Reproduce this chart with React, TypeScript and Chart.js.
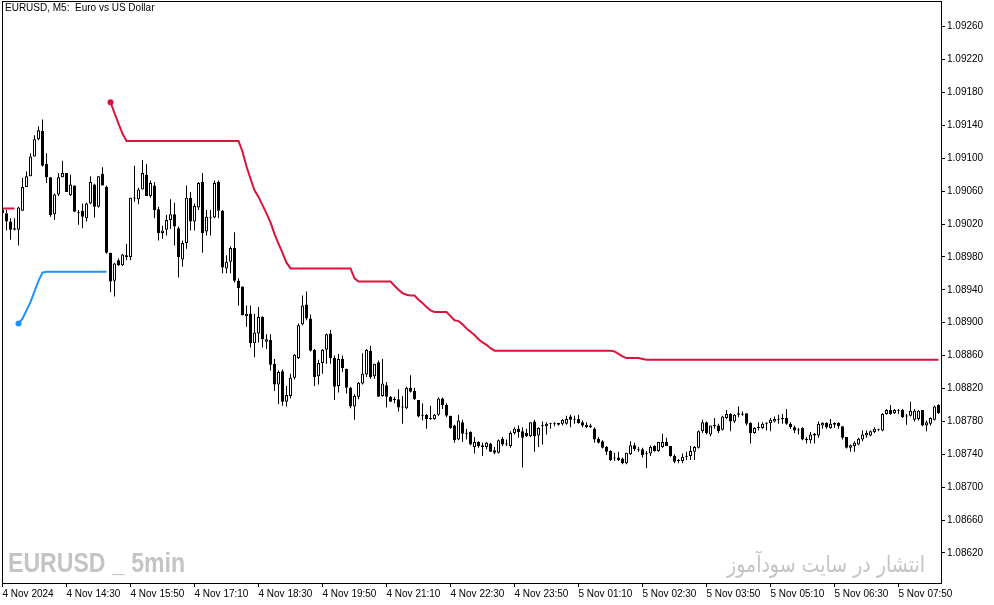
import { useEffect, useRef } from "react";
import { Chart, registerables } from "chart.js";

Chart.register(...registerables);

// Prices are stored in points (0.00001) above 1.08000
const PRICE_BASE = 1.08;
const POINT = 0.00001;

const TITLE = "EURUSD, M5:  Euro vs US Dollar";
const WATERMARK_LEFT = "EURUSD _ 5min";
const WATERMARK_RIGHT = "انتشار در سایت سودآموز";

// 5-minute bars, bar 0 = 4 Nov 2024 13:10
const openPts = [
  1037, 1033, 1023, 1015, 1013, 1036, 1065, 1078, 1102, 1123,
  1133, 1093, 1077, 1032, 1056, 1077, 1082, 1055, 1067, 1033,
  1036, 1027, 1045, 1068, 1041, 1081, 1065, 985, 951, 976,
  970, 980, 980, 1051, 1050, 1062, 1080, 1054, 1067, 1038,
  1009, 1013, 1025, 1032, 1015, 977, 997, 1052, 1023, 1040,
  1071, 1011, 1027, 1028, 1071, 1036, 966, 974, 991, 951,
  944, 908, 911, 875, 887, 907, 877, 879, 850, 825,
  841, 804, 811, 833, 857, 898, 922, 905, 867, 835,
  851, 867, 887, 857, 823, 856, 844, 821, 798, 810,
  826, 837, 866, 835, 852, 811, 824, 810, 806, 807,
  797, 796, 821, 817, 806, 787, 788, 783, 783, 788,
  808, 800, 787, 775, 758, 779, 765, 767, 749, 755,
  751, 749, 753, 745, 742, 759, 752, 750, 766, 771,
  768, 766, 762, 780, 763, 774, 774, 777, 778, 778,
  777, 777, 786, 782, 783, 779, 776, 775, 771, 759,
  756, 749, 744, 735, 736, 735, 729, 740, 751, 746,
  746, 740, 741, 750, 744, 749, 755, 750, 738, 732,
  732, 737, 738, 743, 748, 768, 779, 764, 776, 775,
  770, 784, 789, 780, 790, 788, 790, 778, 766, 772,
  772, 777, 778, 780, 782, 783, 784, 777, 773, 770,
  772, 759, 757, 763, 763, 775, 778, 772, 776, 778,
  774, 761, 748, 750, 752, 758, 763, 763, 767, 771,
  769, 789, 794, 790, 794, 794, 786, 787, 782, 783,
  794, 775, 777, 782, 800,
];
const highPts = [
  1038, 1037, 1027, 1027, 1041, 1076, 1084, 1106, 1128, 1139,
  1147, 1106, 1077, 1057, 1082, 1097, 1082, 1080, 1067, 1037,
  1045, 1046, 1078, 1069, 1078, 1089, 1067, 985, 973, 978,
  984, 996, 1052, 1091, 1064, 1098, 1093, 1073, 1071, 1041,
  1018, 1031, 1050, 1046, 1017, 1000, 1067, 1059, 1045, 1071,
  1082, 1037, 1037, 1073, 1073, 1037, 982, 993, 1010, 954,
  944, 921, 921, 911, 919, 908, 886, 886, 856, 842,
  843, 823, 838, 862, 899, 933, 938, 910, 868, 855,
  868, 887, 891, 860, 862, 860, 844, 822, 813, 828,
  863, 868, 872, 850, 854, 856, 828, 811, 810, 819,
  811, 822, 836, 821, 806, 802, 789, 799, 789, 809,
  809, 802, 787, 776, 788, 782, 771, 768, 761, 756,
  754, 755, 754, 749, 758, 761, 758, 768, 773, 775,
  773, 771, 779, 782, 773, 780, 779, 778, 779, 778,
  783, 787, 788, 787, 788, 781, 779, 777, 773, 761,
  757, 750, 745, 742, 743, 736, 742, 756, 754, 749,
  748, 744, 751, 751, 755, 765, 760, 750, 740, 734,
  741, 743, 750, 750, 769, 782, 780, 775, 784, 777,
  787, 794, 790, 789, 798, 792, 790, 779, 773, 779,
  779, 779, 784, 786, 788, 789, 795, 779, 775, 772,
  773, 761, 767, 766, 780, 779, 779, 783, 779, 779,
  774, 761, 752, 756, 760, 769, 769, 769, 773, 771,
  790, 795, 800, 795, 795, 795, 789, 804, 795, 794,
  794, 781, 785, 799, 801,
];
const lowPts = [
  1031, 1012, 1001, 1012, 994, 1036, 1065, 1078, 1102, 1122,
  1090, 1070, 1029, 1025, 1054, 1077, 1059, 1054, 1035, 1019,
  1015, 1023, 1044, 1028, 1040, 1067, 984, 937, 932, 969,
  969, 976, 976, 1047, 1044, 1062, 1054, 1052, 1027, 1000,
  1002, 1006, 1014, 994, 955, 968, 990, 1012, 1012, 1037,
  985, 1006, 1006, 1027, 1027, 960, 960, 960, 949, 921,
  909, 895, 870, 858, 876, 870, 868, 842, 817, 801,
  799, 798, 808, 831, 856, 897, 903, 865, 823, 825,
  838, 850, 850, 806, 815, 840, 814, 796, 782, 807,
  825, 834, 832, 832, 810, 810, 797, 804, 802, 792,
  777, 795, 815, 806, 785, 781, 771, 782, 782, 787,
  795, 785, 771, 754, 757, 755, 758, 751, 741, 748,
  738, 746, 743, 740, 741, 750, 750, 748, 764, 760,
  724, 761, 761, 743, 749, 752, 764, 771, 774, 775,
  775, 776, 773, 777, 777, 773, 772, 772, 754, 753,
  747, 739, 732, 732, 732, 728, 728, 739, 744, 743,
  736, 723, 738, 743, 743, 748, 750, 737, 729, 729,
  729, 733, 733, 733, 747, 766, 764, 762, 771, 766,
  769, 783, 768, 778, 785, 787, 775, 753, 765, 769,
  771, 769, 768, 779, 777, 777, 776, 771, 766, 764,
  757, 753, 753, 753, 760, 771, 771, 771, 772, 771,
  758, 747, 743, 743, 751, 756, 760, 762, 766, 768,
  768, 788, 788, 789, 789, 784, 776, 786, 780, 781,
  774, 768, 775, 781, 789,
];
const closePts = [
  1033, 1023, 1013, 1013, 1040, 1065, 1078, 1102, 1123, 1134,
  1091, 1077, 1031, 1056, 1077, 1082, 1059, 1068, 1035, 1033,
  1029, 1045, 1071, 1041, 1078, 1067, 985, 950, 972, 970,
  983, 982, 1052, 1051, 1062, 1082, 1054, 1070, 1037, 1009,
  1012, 1025, 1032, 1017, 980, 997, 1052, 1023, 1042, 1070,
  1009, 1029, 1027, 1070, 1036, 967, 974, 991, 951, 942,
  909, 911, 875, 888, 907, 880, 880, 849, 825, 840,
  804, 812, 833, 861, 897, 921, 905, 866, 834, 851,
  867, 886, 857, 822, 856, 845, 821, 798, 811, 827,
  838, 867, 834, 850, 810, 826, 810, 804, 806, 797,
  797, 821, 816, 807, 786, 788, 783, 783, 788, 808,
  800, 787, 772, 757, 781, 765, 766, 752, 755, 750,
  749, 754, 743, 742, 757, 752, 753, 766, 771, 767,
  760, 762, 779, 762, 772, 775, 777, 778, 777, 776,
  782, 783, 782, 783, 778, 775, 773, 773, 758, 754,
  748, 743, 733, 735, 733, 729, 742, 751, 746, 745,
  739, 741, 749, 744, 755, 755, 750, 738, 731, 733,
  737, 738, 744, 749, 768, 779, 766, 775, 774, 768,
  786, 789, 780, 788, 788, 789, 777, 766, 772, 773,
  777, 777, 782, 783, 783, 783, 777, 773, 769, 769,
  758, 757, 764, 765, 777, 778, 773, 777, 778, 774,
  760, 748, 751, 754, 759, 764, 766, 768, 771, 770,
  789, 794, 789, 794, 793, 785, 787, 793, 793, 793,
  775, 779, 784, 798, 790,
];

// Trailing-stop indicator lines (bar index, level in points); null breaks the line
const redStopBars = [
  0, 3, 4, 27, 28, 29, 30, 31, 59, 60, 61, 62, 63, 64, 65, 66, 67, 68, 69, 70,
  71, 72, 87, 88, 89, 97, 98, 99, 100, 101, 102, 103, 104, 105, 106, 107, 108, 111, 112, 113,
  114, 115, 116, 117, 118, 119, 120, 121, 122, 123, 152, 153, 154, 155, 156, 159, 160, 161, 234,
];
const redStopPts = [
  1039, 1039, null, 1168, 1155, 1142, 1130, 1121, 1121, 1108, 1090, 1075, 1061, 1053, 1043, 1033, 1022, 1008, 996, 985,
  973, 966, 966, 954, 950, 950, 945, 940, 936, 934, 933, 933, 928, 924, 919, 915, 913, 913, 908, 903,
  902, 898, 893, 889, 885, 880, 876, 873, 869, 866, 866, 865, 862, 859, 857, 857, 856, 855, 855,
];
const blueStopBars = [4, 5, 6, 7, 8, 9, 10, 11, 26];
const blueStopPts = [899, 905, 915, 925, 938, 951, 961, 962, 962];

const timeTickBars = [0, 16, 32, 48, 64, 80, 96, 112, 128, 144, 160, 176, 192, 208, 224];
const timeTickLabels = [
  "4 Nov 2024", "4 Nov 14:30", "4 Nov 15:50", "4 Nov 17:10", "4 Nov 18:30",
  "4 Nov 19:50", "4 Nov 21:10", "4 Nov 22:30", "4 Nov 23:50", "5 Nov 01:10",
  "5 Nov 02:30", "5 Nov 03:50", "5 Nov 05:10", "5 Nov 06:30", "5 Nov 07:50",
];
const priceTickPts = [620, 660, 700, 740, 780, 820, 860, 900, 940, 980, 1020, 1060, 1100, 1140, 1180, 1220, 1260];

const RED = "#dc143c";
const BLUE = "#1e90ff";
const AXIS_FONT = { family: "'Liberation Sans', Arial, sans-serif", size: 10 };

const framePlugin = {
  id: "mtFrame",
  afterDraw(chart: any) {
    const { ctx, chartArea: a } = chart;
    ctx.save();
    ctx.fillStyle = "#000";
    ctx.fillRect(Math.round(a.left), Math.round(a.top), 1, Math.round(a.bottom - a.top));
    ctx.fillRect(Math.round(a.left), Math.round(a.top), Math.round(a.right - a.left), 1);
    ctx.restore();
  },
};

export default function App() {
  const canvasRef = useRef<HTMLCanvasElement | null>(null);
  const wmLeft = useRef<HTMLDivElement | null>(null);
  const wmRight = useRef<HTMLDivElement | null>(null);

  useEffect(() => {
    const canvas = canvasRef.current;
    if (!canvas) return;

    const wicks = openPts.map((_, i) => ({ x: i, y: [lowPts[i], highPts[i]] }));
    const bodies = openPts.map((o, i) => ({ x: i, y: [o, closePts[i]] }));
    const bodyFill = openPts.map((o, i) => (closePts[i] >= o ? "#ffffff" : "#000000"));
    const red = redStopBars.map((b, i) => ({ x: b, y: redStopPts[i] }));
    const blue = blueStopBars.map((b, i) => ({ x: b, y: blueStopPts[i] }));

    const chart = new Chart(canvas, {
      type: "line",
      data: {
        datasets: [
          {
            type: "line",
            data: red as any,
            borderColor: RED,
            backgroundColor: RED,
            borderWidth: 2,
            tension: 0,
            spanGaps: false,
            pointRadius: (c: any) => (c.dataIndex === 3 ? 3 : 0),
            pointBackgroundColor: RED,
            pointBorderWidth: 0,
            order: 0,
          },
          {
            type: "line",
            data: blue as any,
            borderColor: BLUE,
            backgroundColor: BLUE,
            borderWidth: 2,
            tension: 0,
            pointRadius: (c: any) => (c.dataIndex === 0 ? 3 : 0),
            pointBackgroundColor: BLUE,
            pointBorderWidth: 0,
            order: 0,
          },
          {
            type: "bar",
            data: bodies as any,
            backgroundColor: bodyFill,
            borderColor: "#000000",
            borderWidth: 1,
            borderSkipped: false,
            barThickness: 3,
            grouped: false,
            minBarLength: 1,
            inflateAmount: 0,
            order: 1,
          } as any,
          {
            type: "bar",
            data: wicks as any,
            backgroundColor: "#000000",
            borderWidth: 0,
            barThickness: 1,
            grouped: false,
            inflateAmount: 0,
            order: 2,
          } as any,
        ],
      },
      options: {
        responsive: false,
        animation: false,
        events: [],
        layout: { autoPadding: false, padding: { left: 2, top: 1, right: 0, bottom: 0 } },
        plugins: { legend: { display: false }, tooltip: { enabled: false }, title: { display: false } },
        scales: {
          x: {
            type: "linear",
            min: -0.125,
            max: 234.625,
            offset: false,
            grid: { display: true, drawOnChartArea: false, drawTicks: true, tickLength: 4, color: "#000", offset: false },
            border: { display: true, color: "#000", width: 1 },
            afterBuildTicks: (s: any) => {
              s.ticks = timeTickBars.map((v) => ({ value: v }));
            },
            afterFit: (s: any) => {
              s.height = 22;
              s.paddingLeft = 0;
              s.paddingRight = 0;
              s.paddingTop = 0;
              s.paddingBottom = 0;
            },
            ticks: {
              autoSkip: false,
              maxRotation: 0,
              minRotation: 0,
              align: "start",
              padding: 1,
              color: "#000",
              font: AXIS_FONT,
              callback: (_v: any, i: number) => timeTickLabels[i],
            },
          },
          y: {
            type: "linear",
            position: "right",
            min: 583.5,
            max: 1291.2,
            grid: { display: true, drawOnChartArea: false, drawTicks: true, tickLength: 4, color: "#000" },
            border: { display: true, color: "#000", width: 1 },
            afterBuildTicks: (s: any) => {
              s.ticks = priceTickPts.map((v) => ({ value: v }));
            },
            afterFit: (s: any) => {
              s.width = 53;
              s.paddingLeft = 0;
              s.paddingRight = 0;
              s.paddingTop = 0;
              s.paddingBottom = 0;
            },
            ticks: {
              padding: 2,
              color: "#000",
              font: AXIS_FONT,
              callback: (v: any) => (PRICE_BASE + Number(v) * POINT).toFixed(5),
            },
          },
        },
      } as any,
      plugins: [framePlugin],
    });

    const fit = () => {
      const pairs: [HTMLDivElement | null, number][] = [
        [wmLeft.current, 177],
        [wmRight.current, 198],
      ];
      for (const [el, target] of pairs) {
        if (!el) continue;
        el.style.transform = "none";
        const w = el.getBoundingClientRect().width;
        if (w > 0) el.style.transform = `scaleX(${target / w})`;
      }
    };
    fit();
    if ((document as any).fonts && (document as any).fonts.ready) {
      (document as any).fonts.ready.then(fit);
    }

    return () => {
      chart.destroy();
    };
  }, []);

  return (
    <div
      style={{
        position: "absolute",
        left: 0,
        top: 0,
        width: 994,
        height: 605,
        background: "#ffffff",
        overflow: "hidden",
      }}
    >
      <canvas
        ref={canvasRef}
        width={994}
        height={605}
        style={{ position: "absolute", left: 0, top: 0, width: 994, height: 605, display: "block" }}
      />
      <div
        style={{
          position: "absolute",
          left: 5,
          top: 2,
          fontFamily: "'Liberation Sans', Arial, sans-serif",
          fontSize: 10,
          lineHeight: "12px",
          whiteSpace: "pre",
          color: "#000",
        }}
      >
        {TITLE}
      </div>
      <div
        ref={wmLeft}
        style={{
          position: "absolute",
          left: 8,
          top: 549,
          fontFamily: "'Liberation Sans', Arial, sans-serif",
          fontWeight: 700,
          fontSize: 28,
          lineHeight: "28px",
          whiteSpace: "pre",
          color: "#c4c4c4",
          transformOrigin: "0 0",
        }}
      >
        {WATERMARK_LEFT}
      </div>
      <div
        ref={wmRight}
        dir="rtl"
        style={{
          position: "absolute",
          left: 727,
          top: 551,
          fontFamily: "'DejaVu Sans', sans-serif",
          fontSize: 23,
          lineHeight: "27px",
          whiteSpace: "pre",
          color: "#c4c4c4",
          transformOrigin: "0 0",
        }}
      >
        {WATERMARK_RIGHT}
      </div>
    </div>
  );
}
